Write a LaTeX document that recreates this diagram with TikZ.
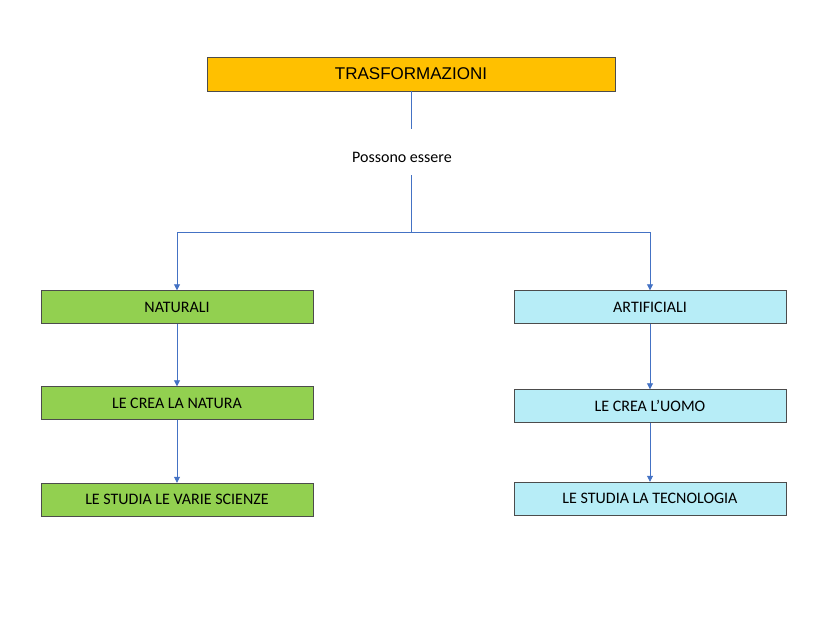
\documentclass[tikz,border=0pt]{standalone}
\usepackage{fontspec}
\setmainfont{Carlito}
\newfontfamily\titlefont{Liberation Sans}
\usetikzlibrary{arrows.meta}
\definecolor{titleorange}{HTML}{FFC000}
\definecolor{natgreen}{HTML}{92D050}
\definecolor{artblue}{HTML}{B7EDF7}
\definecolor{linkblue}{HTML}{4472C4}
\tikzset{
  box/.style={draw=black!70, minimum width=272pt, minimum height=33pt,
    inner sep=0pt, font=\fontsize{16}{18}\selectfont},
  link/.style={linkblue, thick, -{Triangle[length=6pt,width=6pt]}},
  plain/.style={linkblue, thick}
}
\begin{document}
\begin{tikzpicture}[x=1pt, y=-1pt]
        \useasboundingbox (0, 0) rectangle (828, 621);
        \node[box, fill=titleorange, minimum width=408pt, minimum height=34pt,
          font=\titlefont\fontsize{17}{20}\selectfont] (trasf) at (411, 74) {TRASFORMAZIONI};
        \node[font=\fontsize{16}{18}\selectfont] (possono) at (402, 157) {Possono essere};
        \coordinate (top) at (411, 129);
        \coordinate (mid) at (411, 175);
        \coordinate (fork) at (411, 232);
        \coordinate (forkl) at (177, 232);
        \coordinate (forkr) at (650, 232);
        % left column
        \node[box, fill=natgreen] (nat) at (177, 307) {NATURALI};
        \node[box, fill=natgreen] (natcrea) at (177, 403) {LE CREA LA NATURA};
        \node[box, fill=natgreen] (natstudia) at (177, 499.5) {LE STUDIA LE VARIE SCIENZE};
        % right column
        \node[box, fill=artblue] (art) at (650, 307) {ARTIFICIALI};
        \node[box, fill=artblue] (artcrea) at (650, 406) {LE CREA L’UOMO};
        \node[box, fill=artblue] (artstudia) at (650, 498.5) {LE STUDIA LA TECNOLOGIA};
        % connectors
        \draw[plain] (trasf.south) -- (top);
        \draw[plain] (mid) -- (fork);
        \draw[plain] (forkl) -- (forkr);
        \draw[link] (forkl) -- (nat.north);
        \draw[link] (forkr) -- (art.north);
        \draw[link] (nat) -- (natcrea);
        \draw[link] (natcrea) -- (natstudia);
        \draw[link] (art) -- (artcrea);
        \draw[link] (artcrea) -- (artstudia);
\end{tikzpicture}
\end{document}
